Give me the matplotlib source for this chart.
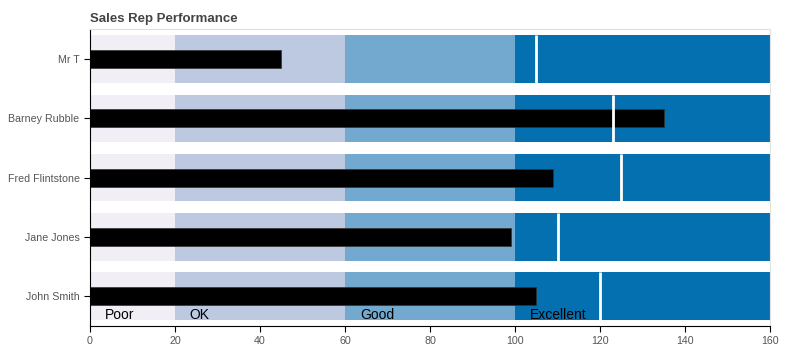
import matplotlib.pyplot as plt
import numpy as np

plt.rcParams['font.family'] = ['Liberation Sans', 'DejaVu Sans']

# data
names = ['John Smith', 'Jane Jones', 'Fred Flintstone', 'Barney Rubble', 'Mr T']
values = [105, 99, 109, 135, 45]
targets = [120, 110, 125, 123, 105]
limits = [20, 60, 100, 160]
limit_labels = ['Poor', 'OK', 'Good', 'Excellent']
palette = ['#f1eef6', '#bdc9e1', '#74a9cf', '#0570b0']

fig = plt.figure(figsize=(8, 3.5), dpi=100)
ax = fig.add_axes([0.1125, 0.069, 0.85, 0.847])

band_h = 0.8
bar_h = 0.3
y = np.arange(len(names))

for i in y:
    prev = 0
    for lim, col in zip(limits, palette):
        ax.barh(i, lim - prev, left=prev, height=band_h, color=col, linewidth=0)
        prev = lim
    ax.barh(i, values[i], height=bar_h, color='black', edgecolor='#333333', linewidth=0.5)
    ax.vlines(targets[i], i - band_h / 2, i + band_h / 2, color='white', linewidth=2)

# range labels in the lowest row
prev = 0
for lim, lab in zip(limits, limit_labels):
    ax.text(prev + 3.5, -0.31, lab, ha='left', va='center', fontsize=10, color='black')
    prev = lim

ax.set_xlim(0, 160)
ax.set_ylim(-0.5, 4.5)
ax.set_yticks(y)
ax.set_yticklabels(names)
ax.set_xticks(np.arange(0, 161, 20))
ax.tick_params(axis='both', labelsize=7.7, labelcolor='#555555', color='black', length=4)

ax.spines['left'].set_color('black')
ax.spines['bottom'].set_color('black')
ax.spines['top'].set_color('#e0e0e0')
ax.spines['right'].set_color('#e0e0e0')

ax.set_title('Sales Rep Performance', loc='left', fontsize=9.5, fontweight='bold',
             color='#444444', pad=5)

fig.savefig('out.png')
